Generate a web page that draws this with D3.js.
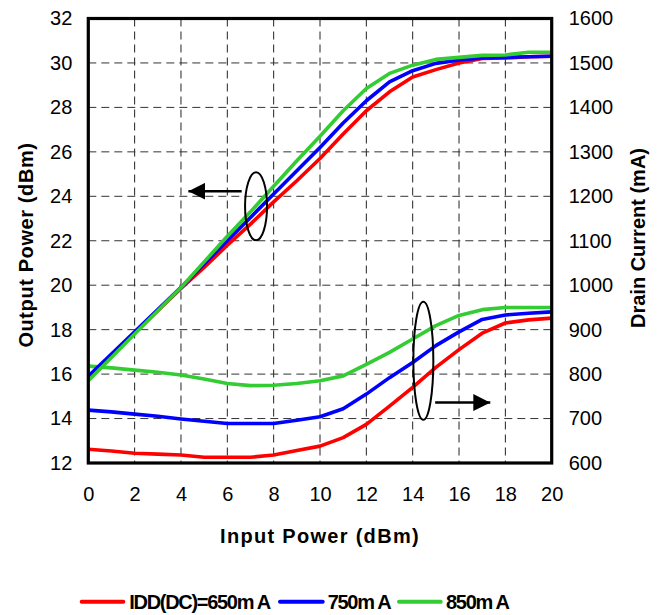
<!DOCTYPE html>
<html><head><meta charset="utf-8">
<script src="https://cdn.jsdelivr.net/npm/d3@7"></script>
<style>body{margin:0;background:#fff}svg{display:block}text{font-family:"Liberation Sans",Arial,sans-serif}</style>
</head><body>
<script>
const inputPower = [0,1,2,3,4,5,6,7,8,9,10,11,12,13,14,15,16,17,18,19,20];
const seriesNames = ["IDD(DC)=650m A","750m A","850m A"];
const seriesColors = ["#FF0000","#0000FF","#33CC33"];
const pout650 = [15.85,16.85,17.85,18.85,19.85,20.8,21.8,22.75,23.75,24.7,25.7,26.8,27.85,28.7,29.37,29.7,30.0,30.2,30.22,30.28,30.3];
const pout750 = [15.9,16.9,17.9,18.9,19.9,20.95,22.0,23.05,24.1,25.15,26.2,27.3,28.3,29.15,29.65,29.98,30.13,30.22,30.25,30.28,30.3];
const pout850 = [15.7,16.75,17.8,18.85,19.9,21.05,22.2,23.3,24.45,25.6,26.7,27.85,28.85,29.53,29.9,30.16,30.25,30.34,30.36,30.48,30.48];
const idd650 = [631,627,622,620,618,613,613,613,618,628,638,657,687,728,770,815,855,892,915,922,926];
const idd750 = [719,715,710,705,699,694,689,689,689,696,704,722,755,792,826,864,895,923,933,937,940];
const idd850 = [818,814,809,804,798,789,779,774,775,779,785,796,822,849,879,909,932,945,950,950,950];
const xTicks = [0,2,4,6,8,10,12,14,16,18,20];
const leftTicks = [12,14,16,18,20,22,24,26,28,30,32];
const rightTicks = [600,700,800,900,1000,1100,1200,1300,1400,1500,1600];

const W=664,H=615;
const L=88.3,R=551.7,T=18.5,B=463;
const svg=d3.select("body").append("svg").attr("width",W).attr("height",H);
const x=d3.scaleLinear().domain([0,20]).range([L,R]);
const yL=d3.scaleLinear().domain([12,32]).range([B,T]);
const yR=d3.scaleLinear().domain([600,1600]).range([B,T]);

// grid
const g=svg.append("g");
g.selectAll("line.v").data(xTicks.slice(1,-1)).join("line")
 .attr("x1",d=>x(d)).attr("x2",d=>x(d)).attr("y1",T).attr("y2",B)
 .attr("stroke","#222").attr("stroke-width",1).attr("stroke-dasharray","8,5");
g.selectAll("line.h").data(leftTicks.slice(1,-1)).join("line").attr("class","h")
 .attr("x1",L).attr("x2",R).attr("y1",d=>yL(d)).attr("y2",d=>yL(d))
 .attr("stroke","#333").attr("stroke-width",1).attr("stroke-dasharray","8,5");

// axes
const axB=d3.axisBottom(x).tickValues(xTicks).tickSize(0).tickPadding(24).tickFormat(d3.format("d"));
const axL=d3.axisLeft(yL).tickValues(leftTicks).tickSize(0).tickPadding(16).tickFormat(d3.format("d"));
const axR=d3.axisRight(yR).tickValues(rightTicks).tickSize(0).tickPadding(17).tickFormat(d3.format("d"));
function styleAx(sel){sel.select(".domain").remove();sel.selectAll("text").attr("font-size",20).attr("fill","#000").attr("font-family","Liberation Sans, Arial, sans-serif");}
svg.append("g").attr("transform",`translate(0,${B})`).call(axB).call(styleAx);
svg.append("g").attr("transform",`translate(${L},0)`).call(axL).call(styleAx);
svg.append("g").attr("transform",`translate(${R},0)`).call(axR).call(styleAx);

// lines
const lineL=d3.line().x((d,i)=>x(inputPower[i])).y(d=>yL(d));
const lineR=d3.line().x((d,i)=>x(inputPower[i])).y(d=>yR(d));
const pouts=[pout650,pout750,pout850], idds=[idd650,idd750,idd850];
const cp=svg.append("defs").append("clipPath").attr("id","c").append("rect").attr("x",L).attr("y",T-4).attr("width",R-L).attr("height",B-T+4);
const pl=svg.append("g").attr("clip-path","url(#c)");
[0,1,2].forEach(i=>{
  pl.append("path").attr("d",lineR(idds[i])).attr("fill","none").attr("stroke",seriesColors[i]).attr("stroke-width",3.6).attr("stroke-linejoin","round");
});
[0,1,2].forEach(i=>{
  pl.append("path").attr("d",lineL(pouts[i])).attr("fill","none").attr("stroke",seriesColors[i]).attr("stroke-width",3.6).attr("stroke-linejoin","round");
});

// frame
svg.append("rect").attr("x",L).attr("y",T).attr("width",R-L).attr("height",B-T).attr("fill","none").attr("stroke","#000").attr("stroke-width",3.2);

// annotations
svg.append("defs").append("marker").attr("id","ah").attr("viewBox","0 0 10 10").attr("refX",10).attr("refY",5)
 .attr("markerWidth",17).attr("markerHeight",17).attr("markerUnits","userSpaceOnUse").attr("orient","auto")
 .append("path").attr("d","M0,0L10,5L0,10Z").attr("fill","#000");
svg.append("ellipse").attr("cx",x(7.24)).attr("cy",yL(23.55)).attr("rx",11).attr("ry",34).attr("fill","none").attr("stroke","#000").attr("stroke-width",2);
svg.append("line").attr("x1",x(6.62)).attr("x2",x(4.32)).attr("y1",yL(24.23)).attr("y2",yL(24.23)).attr("stroke","#000").attr("stroke-width",2.5).attr("marker-end","url(#ah)");
svg.append("ellipse").attr("cx",x(14.46)).attr("cy",yR(830)).attr("rx",10).attr("ry",59).attr("fill","none").attr("stroke","#000").attr("stroke-width",2);
svg.append("line").attr("x1",x(14.97)).attr("x2",x(17.35)).attr("y1",yR(736)).attr("y2",yR(736)).attr("stroke","#000").attr("stroke-width",2.5).attr("marker-end","url(#ah)");

// titles
svg.append("text").attr("x",(L+R)/2).attr("y",543).attr("text-anchor","middle").attr("font-size",20).attr("font-weight","bold").attr("letter-spacing","1.3px").text("Input Power (dBm)");
svg.append("text").attr("transform","translate(33,245) rotate(-90)").attr("text-anchor","middle").attr("font-size",20).attr("font-weight","bold").attr("letter-spacing","0.6px").text("Output Power (dBm)");
svg.append("text").attr("transform","translate(645,238) rotate(-90)").attr("text-anchor","middle").attr("font-size",20).attr("font-weight","bold").text("Drain Current (mA)");

// legend
const legX=[[81.7,123.3,129.3],[280,322.7,327.7],[399,440.7,446]];
seriesNames.forEach((n,i)=>{
  svg.append("line").attr("x1",legX[i][0]).attr("x2",legX[i][1]).attr("y1",601.7).attr("y2",601.7).attr("stroke",seriesColors[i]).attr("stroke-width",4).attr("stroke-linecap","round");
  svg.append("text").attr("x",legX[i][2]).attr("y",609).attr("font-size",20).attr("font-weight","bold").attr("letter-spacing","-1.3px").text(n);
});
</script>
</body></html>
